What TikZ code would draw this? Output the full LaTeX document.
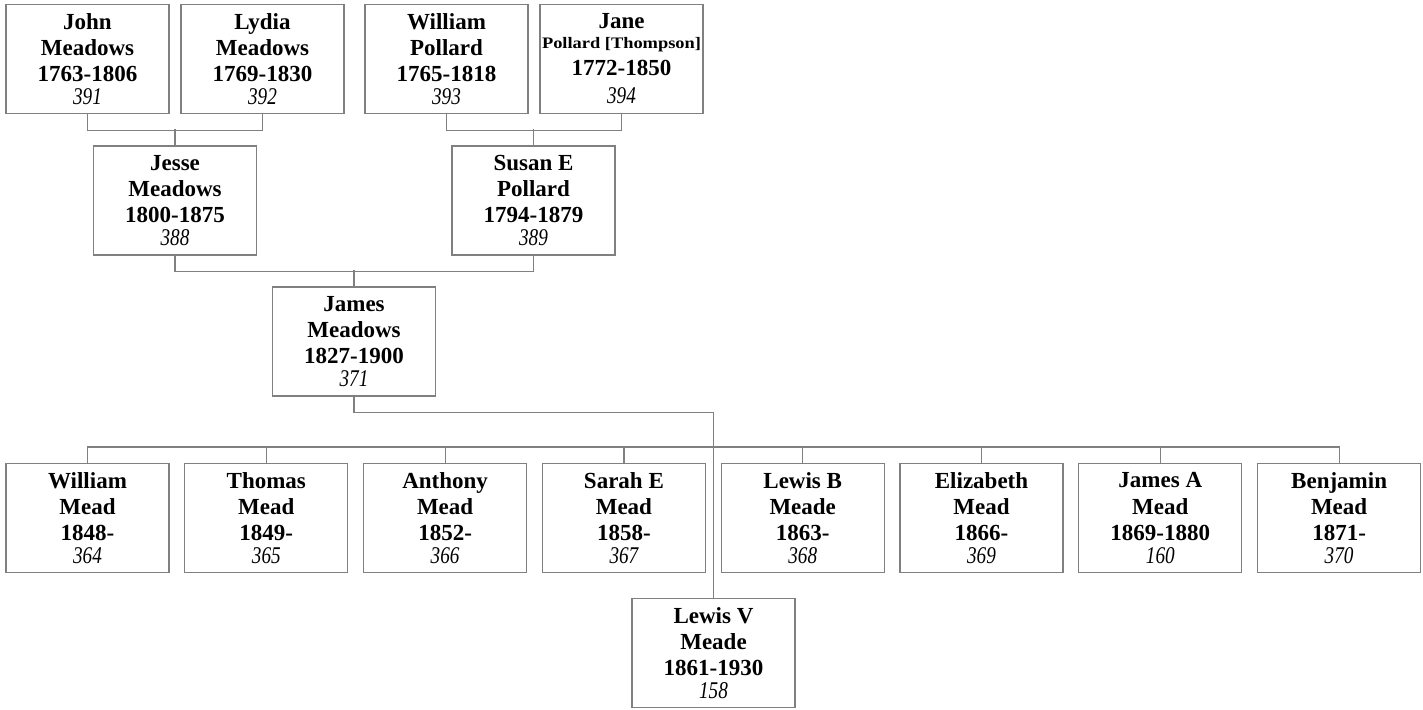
\documentclass[tikz,border=0pt]{standalone}
\usepackage{fontspec}
\setmainfont{Liberation Serif}
\definecolor{linegray}{RGB}{128,128,128}
\newcommand{\numtext}[1]{{\fontsize{24}{26.3}\selectfont\mdseries\itshape\scalebox{0.8}[1]{#1}}}
\newcommand{\pnum}[1]{\\[-3.7pt]\numtext{#1}}
\begin{document}
\begin{tikzpicture}[x=1pt,y=-1pt,
  person/.style={draw=linegray, line width=1.2pt, minimum width=163pt, minimum height=109pt,
    inner sep=0pt, align=center, font=\fontsize{23}{26.3}\selectfont\bfseries},
  conn/.style={draw=linegray, line width=1.2pt}]
\useasboundingbox (0,0) rectangle (1423,709);
% grandparents
\node[person] (john)  at (87.5,59)  {John\\Meadows\\1763-1806\pnum{391}};
\node[person] (lydia) at (262.5,59) {Lydia\\Meadows\\1769-1830\pnum{392}};
\node[person] (wpol)  at (446.5,59) {William\\Pollard\\1765-1818\pnum{393}};
\node[person] (jane)  at (621.5,59) {Jane\\[-6.6pt]\scalebox{1.15}[1]{\fontsize{16}{19}\selectfont Pollard [Thompson]}\\[0.7pt]1772-1850\\[2pt]\numtext{394}};
% parents
\node[person] (jesse) at (175,200.5)   {Jesse\\Meadows\\1800-1875\pnum{388}};
\node[person] (susan) at (533.5,200.5) {Susan E\\Pollard\\1794-1879\pnum{389}};
% james
\node[person] (james) at (354,341.5) {James\\Meadows\\1827-1900\pnum{371}};
% children
\node[person] (c1) at (87.5,518)   {William\\Mead\\1848-\pnum{364}};
\node[person] (c2) at (266.3,518)  {Thomas\\Mead\\1849-\pnum{365}};
\node[person] (c3) at (445.1,518)  {Anthony\\Mead\\1852-\pnum{366}};
\node[person] (c4) at (623.9,518)  {Sarah E\\Mead\\1858-\pnum{367}};
\node[person] (c5) at (802.7,518)  {Lewis B\\Meade\\1863-\pnum{368}};
\node[person] (c6) at (981.5,518)  {Elizabeth\\Mead\\1866-\pnum{369}};
\node[person] (c7) at (1160.3,518) {James A\\Mead\\1869-1880\pnum{160}};
\node[person] (c8) at (1339.1,518) {Benjamin\\Mead\\1871-\pnum{370}};
\node[person] (lewisv) at (713.5,653) {Lewis V\\Meade\\1861-1930\pnum{158}};
% connectors
\draw[conn] (john.south) -- ++(0,16) -| (lydia.south);
\draw[conn] (jesse.north) -- ++(0,-16);
\draw[conn] (wpol.south) -- ++(0,16) -| (jane.south);
\draw[conn] (susan.north) -- ++(0,-16);
\draw[conn] (jesse.south) -- ++(0,16) -| (susan.south);
\draw[conn] (james.north) -- ++(0,-16);
\draw[conn] (james.south) -- ++(0,16) -| (lewisv.north);
\draw[conn] (c1.north) -- ++(0,-16) -| (c8.north);
\foreach \c in {c2,c3,c4,c5,c6,c7} \draw[conn] (\c.north) -- ++(0,-16);
\end{tikzpicture}
\end{document}
